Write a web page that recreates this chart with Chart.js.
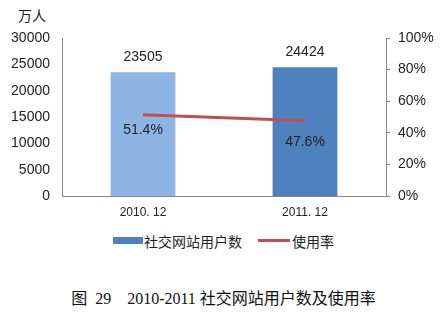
<!DOCTYPE html>
<html>
<head>
<meta charset="utf-8">
<script src="https://cdn.jsdelivr.net/npm/chart.js@4/dist/chart.umd.min.js"></script>
<style>
  body { margin: 0; background: #fff; width: 447px; height: 322px; overflow: hidden; position: relative; font-family: Arial, "Liberation Sans", "Noto Sans CJK SC", sans-serif; }
  #wrap { position: absolute; left: 0; top: 0; width: 447px; height: 225px; }
  #unit { position: absolute; left: 18px; top: 5px; font-size: 14px; color: #222; }
  #legend { position: absolute; top: 231px; left: 0; width: 447px; font-size: 14px; color: #222; }
  #legend span.sw { position: absolute; }
  #legend span.tx { position: absolute; top: 0; }
  #caption { position: absolute; top: 285px; left: 0; width: 447px; text-align: center; font-size: 16px; color: #111; font-family: "Liberation Serif", "Noto Sans CJK SC", serif; }
</style>
</head>
<body>
<div id="unit">万人</div>
<div id="wrap"><canvas id="myChart"></canvas></div>
<div id="legend"></div>
<div id="caption">图&nbsp; 29&nbsp;&nbsp;&nbsp; 2010-2011 社交网站用户数及使用率</div>
<script>
var categories = ['2010. 12', '2011. 12'];
var users = [23505, 24424];
var usageRate = [51.4, 47.6];
var seriesNames = ['社交网站用户数', '使用率'];
var barColors = ['#8DB4E2', '#4F81BD'];

// labels on bars and under the line points
var labelPlugin = {
  id: 'labels',
  afterDatasetsDraw: function (chart) {
    var ctx = chart.ctx;
    ctx.save();
    ctx.font = '14px Arial, "Liberation Sans"';
    ctx.fillStyle = '#222';
    ctx.textAlign = 'center';
    ctx.textBaseline = 'middle';
    chart.getDatasetMeta(0).data.forEach(function (bar, i) {
      ctx.fillText(users[i], bar.x, bar.y - 15);
    });
    var offs = [15, 21];
    chart.getDatasetMeta(1).data.forEach(function (pt, i) {
      ctx.fillText(usageRate[i].toFixed(1) + '%', pt.x, pt.y + offs[i]);
    });
    ctx.restore();
  }
};

var ctx = document.getElementById('myChart');
new Chart(ctx, {
  data: {
    labels: categories,
    datasets: [{
      type: 'bar',
      label: seriesNames[0],
      data: users,
      yAxisID: 'y',
      backgroundColor: barColors,
      categoryPercentage: 1,
      barPercentage: 0.4,
      order: 1
    }, {
      type: 'line',
      label: seriesNames[1],
      data: usageRate,
      yAxisID: 'y1',
      borderColor: '#C0504D',
      borderWidth: 3,
      pointRadius: 0,
      order: 0
    }]
  },
  options: {
    responsive: true,
    maintainAspectRatio: false,
    animation: false,
    layout: { padding: { top: 38, left: 0, right: 0, bottom: 0 } },
    plugins: { legend: { display: false }, tooltip: { enabled: false } },
    scales: {
      x: {
        grid: { display: false, drawTicks: false },
        border: { color: '#888' },
        ticks: { color: '#222', font: { size: 12, family: 'Arial' }, padding: 9 },
        afterFit: function (s) { s.height = 29; }
      },
      y: {
        position: 'left',
        min: 0, max: 30000,
        ticks: { stepSize: 5000, color: '#222', font: { size: 14, family: 'Arial' }, padding: 12,
          callback: function (v) { return String(v); } },
        grid: { display: false, drawTicks: false },
        border: { color: '#888' },
        afterFit: function (s) { s.width = 62; }
      },
      y1: {
        position: 'right',
        min: 0, max: 100,
        ticks: { stepSize: 20, color: '#222', font: { size: 14, family: 'Arial' }, padding: 8,
          callback: function (v) { return v + '%'; } },
        grid: { drawOnChartArea: false, drawTicks: true, tickLength: 4, color: '#888' },
        border: { color: '#888' },
        afterFit: function (s) { s.width = 61; }
      }
    }
  },
  plugins: [labelPlugin]
});

// legend
var lg = document.getElementById('legend');
lg.innerHTML =
  '<span class="sw" style="left:113px;top:6px;width:30px;height:7px;background:' + barColors[1] + '"></span>' +
  '<span class="tx" style="left:144px">' + seriesNames[0] + '</span>' +
  '<span class="sw" style="left:258px;top:8px;width:32px;height:3px;background:#C0504D"></span>' +
  '<span class="tx" style="left:292px">' + seriesNames[1] + '</span>';
</script>
</body>
</html>
